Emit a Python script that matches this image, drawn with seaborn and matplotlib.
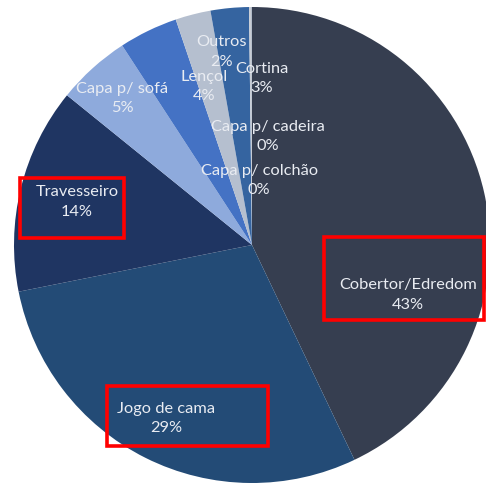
import seaborn as sns
import matplotlib.pyplot as plt
from matplotlib.patches import Rectangle

sns.set_style("white")
plt.rcParams['font.family'] = ['Lato', 'DejaVu Sans']

categorias = ['Cobertor/Edredom', 'Jogo de cama', 'Travesseiro', 'Capa p/ sofá',
              'Lençol', 'Outros', 'Cortina', 'Capa p/ cadeira', 'Capa p/ colchão']
valores = [43, 29, 14, 5, 4, 2.4, 2.6, 0.15, 0.05]
cores = ['#363e50', '#234b76', '#1f3562', '#8eaadc', '#4472c4',
         '#b5bfcf', '#3564a0', '#c8ccd4', '#9aa6b8']

# posicao dos rotulos (em unidades do raio)
pos_rotulos = [(0.655, -0.21), (-0.36, -0.73), (-0.735, 0.18), (-0.545, 0.615),
               (-0.2, 0.665), (-0.13, 0.81), (0.04, 0.70), (0.065, 0.455), (0.03, 0.27)]

fig = plt.figure(figsize=(4.86, 4.83), dpi=100)
ax = fig.add_axes([0, 0, 1, 1])

wedges, _ = ax.pie(valores, colors=cores, startangle=90, counterclock=False,
                   wedgeprops=dict(linewidth=0))

for nome, v, (x, y) in zip(categorias, valores, pos_rotulos):
    ax.text(x, y, f"{nome}\n{round(v)}%", ha='center', va='center',
            color='#e9ecf2', fontsize=11.8, linespacing=1.5)

ax.set_xlim(-252 / 238, 234 / 238)
ax.set_ylim(-1.0, 245 / 238)
ax.set_aspect('equal')
ax.axis('off')

# caixas vermelhas de destaque (pixels da figura)
for x0, y0, x1, y1 in [(20, 178, 124, 238), (324, 237, 484, 320), (107, 386, 268, 446)]:
    fig.patches.append(Rectangle((x0 / 486, 1 - y1 / 483), (x1 - x0) / 486, (y1 - y0) / 483,
                                 transform=fig.transFigure, fill=False,
                                 edgecolor='#ff0000', linewidth=2.6))

plt.savefig('out.png', dpi=100)
